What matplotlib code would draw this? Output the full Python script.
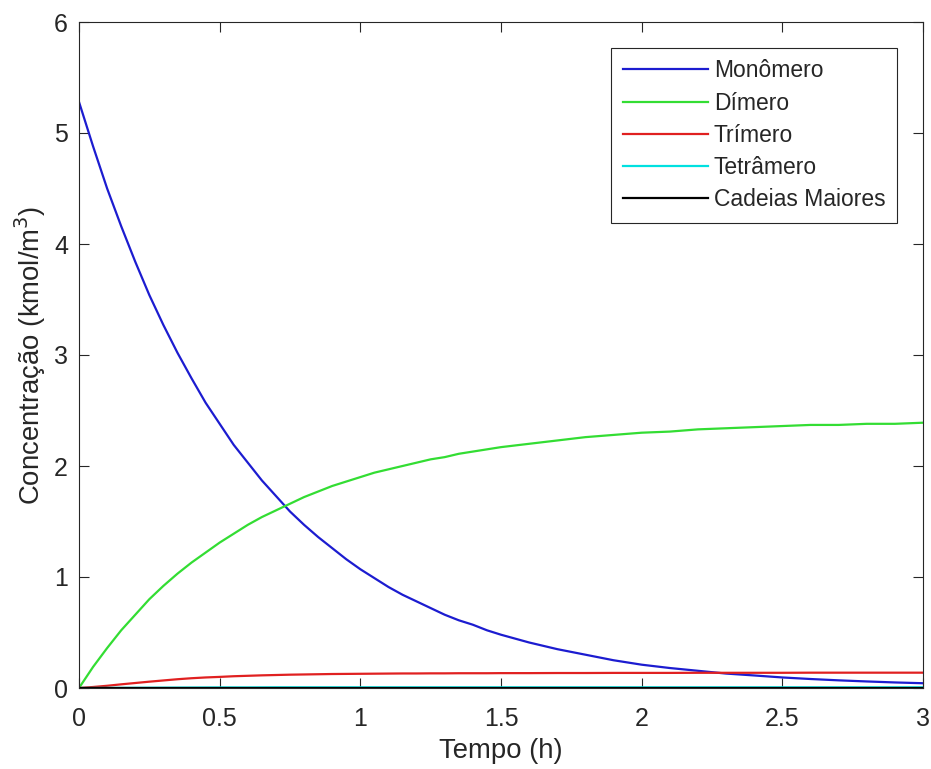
import numpy as np
import matplotlib
matplotlib.use('Agg')
import matplotlib.pyplot as plt

# time grid (h) and concentrations (kmol/m3)
tempo = [0.0, 0.05, 0.1, 0.15, 0.2, 0.25, 0.3, 0.35, 0.4, 0.45, 0.5,
         0.55, 0.6, 0.65, 0.7, 0.75, 0.8, 0.85, 0.9, 0.95, 1.0,
         1.05, 1.1, 1.15, 1.2, 1.25, 1.3, 1.35, 1.4, 1.45, 1.5,
         1.6, 1.7, 1.8, 1.9, 2.0, 2.1, 2.2, 2.3, 2.4, 2.5,
         2.6, 2.7, 2.8, 2.9, 3.0]
monomero = [5.28, 4.88, 4.50, 4.16, 3.84, 3.54, 3.27, 3.02, 2.79, 2.57, 2.38,
            2.19, 2.03, 1.87, 1.73, 1.59, 1.47, 1.36, 1.26, 1.16, 1.07,
            0.99, 0.91, 0.84, 0.78, 0.72, 0.66, 0.61, 0.57, 0.52, 0.48,
            0.41, 0.35, 0.30, 0.25, 0.21, 0.18, 0.155, 0.13, 0.113, 0.095,
            0.081, 0.069, 0.059, 0.050, 0.043]
dimero = [0.0, 0.19, 0.36, 0.52, 0.66, 0.80, 0.92, 1.03, 1.13, 1.22, 1.31,
          1.39, 1.47, 1.54, 1.60, 1.66, 1.72, 1.77, 1.82, 1.86, 1.90,
          1.94, 1.97, 2.00, 2.03, 2.06, 2.08, 2.11, 2.13, 2.15, 2.17,
          2.20, 2.23, 2.26, 2.28, 2.30, 2.31, 2.33, 2.34, 2.35, 2.36,
          2.37, 2.37, 2.38, 2.38, 2.39]
trimero = [0.0, 0.009, 0.02, 0.033, 0.045, 0.057, 0.068, 0.079, 0.088, 0.095, 0.10,
           0.106, 0.11, 0.114, 0.117, 0.12, 0.122, 0.124, 0.126, 0.127, 0.128,
           0.129, 0.130, 0.131, 0.131, 0.132, 0.132, 0.133, 0.133, 0.133, 0.134,
           0.134, 0.135, 0.135, 0.136, 0.136, 0.136, 0.137, 0.137, 0.137, 0.137,
           0.138, 0.138, 0.138, 0.138, 0.138]
tetramero = [0.0, 0.0005, 0.001, 0.0015, 0.002, 0.0025, 0.003, 0.0035, 0.004, 0.0045, 0.005,
             0.005, 0.005, 0.0055, 0.006, 0.006, 0.006, 0.006, 0.006, 0.006, 0.006,
             0.006, 0.006, 0.006, 0.006, 0.006, 0.006, 0.006, 0.006, 0.006, 0.006,
             0.006, 0.006, 0.006, 0.006, 0.006, 0.006, 0.006, 0.006, 0.006, 0.006,
             0.006, 0.006, 0.006, 0.006, 0.006]
cadeias = [0.0] * len(tempo)

series = [
  (monomero, 'Monômero', '#1c1cd0'),
  (dimero, 'Dímero', '#33dd33'),
  (trimero, 'Trímero', '#e02020'),
  (tetramero, 'Tetrâmero', '#00e0e0'),
  (cadeias, 'Cadeias Maiores', '#000000'),
]

plt.rcParams['font.family'] = ['Liberation Sans', 'DejaVu Sans']
ink = '#262626'

fig = plt.figure(figsize=(9.31, 7.69), dpi=100)
ax = fig.add_axes([79/931, 1 - 688/769, 844/931, 666/769])

for y, label, color in series:
  ax.plot(tempo, y, color=color, linewidth=1.6, label=label)

ax.set_xlim(0, 3)
ax.set_ylim(0, 6)
ax.set_xticks(np.arange(0, 3.01, 0.5))
ax.set_xticklabels(['0', '0.5', '1', '1.5', '2', '2.5', '3'])
ax.set_yticks(range(0, 7))
ax.tick_params(direction='in', length=7, width=0.8, top=True, right=True,
               labelsize=18, colors=ink)
ax.tick_params(axis='x', pad=14)
ax.tick_params(axis='y', pad=8)
for s in ax.spines.values():
  s.set_color(ink)
  s.set_linewidth(0.8)

ax.set_xlabel('Tempo (h)', fontsize=19.8, color=ink, labelpad=5)
ax.set_ylabel('Concentração (kmol/m$^3$)', fontsize=19.8, color=ink, labelpad=4)

leg = ax.legend(loc='upper right', bbox_to_anchor=(897/931, 1 - 48/769),
                bbox_transform=fig.transFigure, fontsize=16.5, handlelength=3.7,
                handletextpad=0.27, labelspacing=0.4, borderpad=0.5,
                fancybox=False, framealpha=1, edgecolor=ink, borderaxespad=0)
leg.get_frame().set_linewidth(0.8)
for t in leg.get_texts():
  t.set_color(ink)

fig.savefig('out.png', dpi=100)
